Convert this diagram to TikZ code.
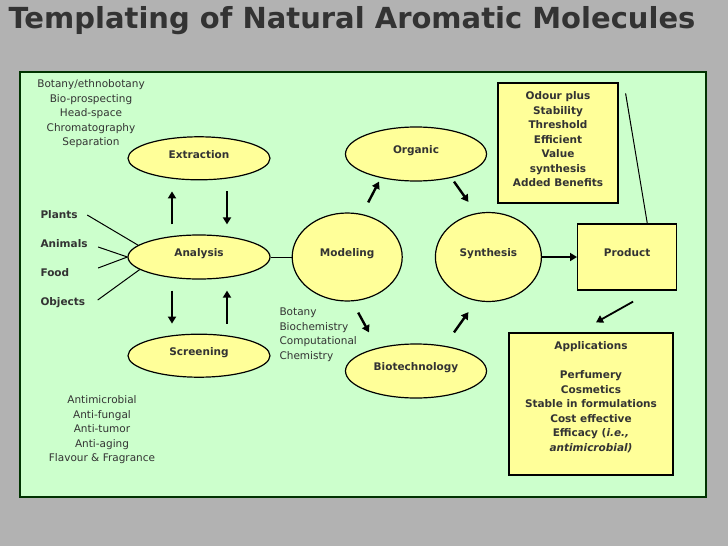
\documentclass[tikz,border=0pt]{standalone}
\usepackage{fontspec}
\setmainfont{DejaVu Sans}
\usepackage{xcolor}
\usetikzlibrary{shapes.geometric, arrows.meta, positioning, calc}

\definecolor{slidegray}{HTML}{B2B2B2}
\definecolor{panelgreen}{HTML}{CCFFCC}
\definecolor{paleyellow}{HTML}{FFFF99}
\definecolor{darktext}{HTML}{333333}

\begin{document}
\begin{tikzpicture}[
        x=1pt, y=-1pt,
        >={Triangle[length=7pt,width=8pt]},
        font=\fontsize{10.5}{14.5}\selectfont,
        text=darktext,
        % styles of the shapes
        stage/.style={ellipse, draw=black, line width=1.2pt, fill=paleyellow, inner sep=0pt, text depth=8pt, font=\fontsize{10.5}{14.5}\selectfont\bfseries},
        infobox/.style={rectangle, draw=black, line width=1.2pt, fill=paleyellow, align=center, inner sep=4pt, font=\fontsize{10.5}{14.5}\selectfont\bfseries},
        note/.style={align=center},
        source/.style={anchor=west, font=\fontsize{10.5}{14.5}\selectfont\bfseries},
        bigarrow/.style={->, line width=2.4pt},
        link/.style={line width=1pt}
    ]

    % --- 0. BACKGROUND AND TITLE ---
    \path[use as bounding box, fill=slidegray] (0,0) rectangle (728,546);
    \node[anchor=west, font=\fontsize{29}{34}\selectfont\bfseries] (title) at (5,21) {Templating of Natural Aromatic Molecules};
    \draw[draw=black!80!green, line width=1.5pt, fill=panelgreen] (20,72) rectangle (706,497);

    % --- 1. THE ELLIPSES ---
    \node[stage, minimum width=142pt, minimum height=44pt] (analysis) at (199,257) {Analysis};
    \node[stage, minimum width=142pt, minimum height=43pt, above=54pt of analysis] (extraction) {Extraction};
    \node[stage, minimum width=142pt, minimum height=43pt, below=54pt of analysis] (screening) {Screening};
    \node[stage, minimum width=110pt, minimum height=88pt, right=21pt of analysis] (modeling) {Modeling};
    \node[stage, minimum width=106pt, minimum height=89pt, right=32pt of modeling] (synthesis) {Synthesis};
    \node[stage, minimum width=141pt, minimum height=54pt] (organic) at (416,154) {Organic};
    \node[stage, minimum width=141pt, minimum height=54pt] (biotech) at (416,371) {Biotechnology};

    % --- 2. THE BOXES ---
    \node[infobox, minimum width=99pt, minimum height=66pt, text depth=8pt, right=35pt of synthesis] (product) {Product};
    \node[infobox, minimum width=120pt, minimum height=120pt, text depth=7pt] (odour) at (558,143) {
        Odour plus\\Stability\\Threshold\\Efficient\\Value\\synthesis\\Added Benefits
    };
    \node[infobox, minimum width=164pt, minimum height=142pt, text depth=14.5pt] (applications) at (591,404) {
        Applications\\[14.5pt]
        Perfumery\\Cosmetics\\Stable in formulations\\Cost effective\\
        Efficacy (\textit{i.e.,}\\\textit{antimicrobial)}
    };

    % --- 3. THE FREE TEXTS ---
    \node[note] (extractnote) at (91,114) {Botany/ethnobotany\\Bio-prospecting\\Head-space\\Chromatography\\Separation};
    \node[note] (screennote) at (102,430) {Antimicrobial\\Anti-fungal\\Anti-tumor\\Anti-aging\\Flavour \& Fragrance};
    \node[note, align=left, anchor=west] (modelnote) at (276,335) {Botany\\Biochemistry\\Computational\\Chemistry};

    \node[source] (plants) at (37,215) {Plants};
    \node[source] (animals) at (37,244) {Animals};
    \node[source] (food) at (37,273) {Food};
    \node[source] (objects) at (37,303) {Objects};

    % --- 4. LINES INTO ANALYSIS ---
    \coordinate (foodstart) at ($(animals.east |- food.east)+(7pt,5pt)$);
    \draw[link] ([xshift=6pt]plants.east) -- (analysis.169);
    \draw[link] ([shift={(7pt,-3pt)}]animals.east) -- (analysis.west);
    \draw[link] (foodstart) -- (analysis.west);
    \draw[link] ([shift={(9pt,3pt)}]objects.east) -- (analysis.192);
    \draw[link] (analysis.east) -- (modeling.west);

    % --- 5. THICK ARROWS ---
    \draw[bigarrow] ([shift={(-27pt,10pt)}]analysis.north) -- ([shift={(-27pt,-11pt)}]extraction.south);
    \draw[bigarrow] ([shift={(28pt,-11pt)}]extraction.south) -- ([shift={(28pt,10pt)}]analysis.north);
    \draw[bigarrow] ([shift={(-27pt,-11pt)}]analysis.south) -- ([shift={(-27pt,10pt)}]screening.north);
    \draw[bigarrow] ([shift={(28pt,10pt)}]screening.north) -- ([shift={(28pt,-11pt)}]analysis.south);

    \draw[bigarrow] ([shift={(21pt,10pt)}]modeling.north) -- ([shift={(-37pt,0pt)}]organic.south);
    \draw[bigarrow] ([shift={(38pt,0pt)}]organic.south) -- ([shift={(-20pt,10pt)}]synthesis.north);
    \draw[bigarrow] ([shift={(11pt,-11pt)}]modeling.south) -- ([shift={(-47pt,11pt)}]biotech.north);
    \draw[bigarrow] ([shift={(38pt,11pt)}]biotech.north) -- ([shift={(-20pt,-10pt)}]synthesis.south);

    % --- 6. PRODUCT AND ITS BOXES ---
    \draw[bigarrow] (synthesis.east) -- (product.west);
    \draw[->, line width=1.8pt] ([shift={(6pt,-11pt)}]product.south) -- ([shift={(5pt,10pt)}]applications.north);
    \draw[link] (product.59) -- ([shift={(7pt,-11pt)}]odour.north east);

\end{tikzpicture}
\end{document}
